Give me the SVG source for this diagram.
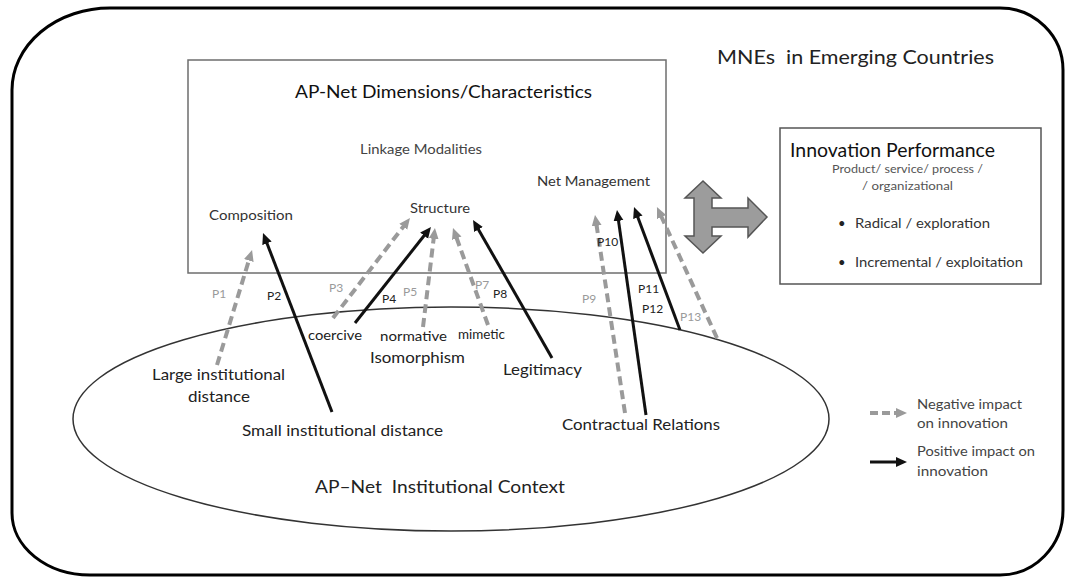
<svg xmlns="http://www.w3.org/2000/svg" width="1065" height="580" viewBox="0 0 1065 580">
<style>
text{font-family:Lato,"Liberation Sans",sans-serif;fill:#222}
.pre{white-space:pre}
.g{fill:#9a9a9a}
.neg{stroke:#9a9a9a;stroke-width:4;stroke-dasharray:9 5;fill:none}
.pos{stroke:#111;stroke-width:3;fill:none}
.box{fill:#fff;stroke:#6e6e6e;stroke-width:1.5}
.lab{font-size:12px}
</style>
<defs>
<marker id="hg" markerUnits="userSpaceOnUse" markerWidth="12" markerHeight="11" refX="3" refY="5" orient="auto"><path d="M0,0 L11,5 L0,10 z" fill="#9a9a9a"/></marker>
<marker id="hb" markerUnits="userSpaceOnUse" markerWidth="12" markerHeight="11" refX="3" refY="5" orient="auto"><path d="M0,0 L11,5 L0,10 z" fill="#111"/></marker>
</defs>
<rect width="1065" height="580" fill="#fff"/>
<g id="outer">
<path d="M110,8 H1000 A63,62 0 0 1 1063,70 V510 A63,65 0 0 1 1000,575 H90 A78,62 0 0 1 12,513 V90 A98,82 0 0 1 110,8 Z" fill="none" stroke="#000" stroke-width="3"/>
<text class="pre" x="717" y="64" font-size="19" textLength="277" lengthAdjust="spacingAndGlyphs">MNEs  in Emerging Countries</text>
</g>
<g id="context">
<ellipse cx="451" cy="419" rx="378" ry="112" fill="none" stroke="#333" stroke-width="1.5"/>
<text class="pre" x="315" y="493" font-size="18" textLength="250" lengthAdjust="spacingAndGlyphs">AP–Net  Institutional Context</text>
</g>
<g id="dimensions">
<rect class="box" x="188" y="60" width="478" height="213"/>
<text x="295" y="98" font-size="18" textLength="297" lengthAdjust="spacingAndGlyphs" style="fill:#111">AP-Net Dimensions/Characteristics</text>
<text x="360" y="154" font-size="13" textLength="122" lengthAdjust="spacingAndGlyphs" style="fill:#444">Linkage Modalities</text>
</g>
<g id="net-management"><text x="537" y="186" font-size="13.5" textLength="113" lengthAdjust="spacingAndGlyphs" style="fill:#333">Net Management</text></g>
<g id="structure"><text x="410" y="213" font-size="13.5" textLength="60" lengthAdjust="spacingAndGlyphs" style="fill:#333">Structure</text></g>
<g id="composition"><text x="209" y="220" font-size="13.5" textLength="84" lengthAdjust="spacingAndGlyphs" style="fill:#333">Composition</text></g>
<g id="innovation">
<rect class="box" x="780" y="128" width="261" height="156" style="stroke:#555"/>
<text x="790" y="157" font-size="19" textLength="205" lengthAdjust="spacingAndGlyphs" style="fill:#111">Innovation Performance</text>
<text x="832" y="173" font-size="11.5" textLength="151" lengthAdjust="spacingAndGlyphs" style="fill:#555">Product/ service/ process /</text>
<text x="862" y="190" font-size="11.5" textLength="91" lengthAdjust="spacingAndGlyphs" style="fill:#555">/ organizational</text>
<text x="838" y="228" font-size="13">•</text>
<text x="855" y="228" font-size="13.5" textLength="135" lengthAdjust="spacingAndGlyphs" style="fill:#333">Radical / exploration</text>
<text x="838" y="267" font-size="13">•</text>
<text x="855" y="267" font-size="13.5" textLength="168" lengthAdjust="spacingAndGlyphs" style="fill:#333">Incremental / exploitation</text>
</g>
<g id="impact-arrow">
<polygon points="703,181 721,198 712,198 712,208 748,208 748,198 767,217 748,237 748,227 712,227 712,236 721,236 703,253 685,236 694,236 694,198 685,198" fill="#9c9c9c" stroke="#555" stroke-width="1.5"/>
</g>
<g id="sources">
<text x="152" y="380" font-size="15" textLength="133" lengthAdjust="spacingAndGlyphs">Large institutional</text>
<text x="188" y="402" font-size="15" textLength="62" lengthAdjust="spacingAndGlyphs">distance</text>
<text x="242" y="436" font-size="14.5" textLength="201" lengthAdjust="spacingAndGlyphs">Small institutional distance</text>
<text x="308" y="340" font-size="12.5" textLength="54" lengthAdjust="spacingAndGlyphs">coercive</text>
<text x="380" y="341" font-size="12.5" textLength="67" lengthAdjust="spacingAndGlyphs">normative</text>
<text x="458" y="339" font-size="12.5" textLength="47" lengthAdjust="spacingAndGlyphs">mimetic</text>
<text x="370" y="363" font-size="15" textLength="95" lengthAdjust="spacingAndGlyphs">Isomorphism</text>
<text x="503" y="375" font-size="15" textLength="79" lengthAdjust="spacingAndGlyphs">Legitimacy</text>
<text x="562" y="430" font-size="15" textLength="158" lengthAdjust="spacingAndGlyphs">Contractual Relations</text>
</g>
<g id="connectors">
<line class="neg" x1="217" y1="365" x2="249.7" y2="257.7" marker-end="url(#hg)"/>
<line class="pos" x1="332" y1="412" x2="265.9" y2="240.5" marker-end="url(#hb)"/>
<line class="neg" x1="333" y1="318" x2="405.1" y2="224.3" marker-end="url(#hg)"/>
<line class="pos" x1="355" y1="323" x2="426.0" y2="233.3" marker-end="url(#hb)"/>
<line class="neg" x1="423" y1="327" x2="434.0" y2="235.9" marker-end="url(#hg)"/>
<line class="neg" x1="488" y1="325" x2="455.7" y2="235.5" marker-end="url(#hg)"/>
<line class="pos" x1="552" y1="358" x2="477.0" y2="226.9" marker-end="url(#hb)"/>
<line class="neg" x1="625" y1="413" x2="596.2" y2="222.9" marker-end="url(#hg)"/>
<line class="pos" x1="646" y1="415" x2="618.1" y2="217.9" marker-end="url(#hb)"/>
<line class="pos" x1="680" y1="330" x2="636.8" y2="214.5" marker-end="url(#hb)"/>
<line class="neg" x1="717" y1="338" x2="660.3" y2="214.3" marker-end="url(#hg)"/>
<text class="lab g" x="212" y="298">P1</text>
<text class="lab" x="267" y="300">P2</text>
<text class="lab g" x="329" y="292">P3</text>
<text class="lab" x="382" y="303">P4</text>
<text class="lab g" x="403" y="296">P5</text>
<text class="lab g" x="475" y="289">P7</text>
<text class="lab" x="493" y="298">P8</text>
<text class="lab g" x="582" y="303">P9</text>
<text class="lab" x="597" y="246">P10</text>
<text class="lab" x="638" y="293">P11</text>
<text class="lab" x="642" y="313">P12</text>
<text class="lab g" x="680" y="321">P13</text>
</g>
<g id="legend">
<line class="neg" x1="870" y1="413" x2="899" y2="413" style="stroke-dasharray:8 4" marker-end="url(#hg)"/>
<line class="pos" x1="870" y1="462" x2="899" y2="462" marker-end="url(#hb)"/>
<text x="917" y="409" font-size="13.5" textLength="105" lengthAdjust="spacingAndGlyphs" style="fill:#444">Negative impact</text>
<text x="917" y="428" font-size="13.5" textLength="91" lengthAdjust="spacingAndGlyphs" style="fill:#444">on innovation</text>
<text x="917" y="456" font-size="13.5" textLength="118" lengthAdjust="spacingAndGlyphs" style="fill:#444">Positive impact on</text>
<text x="917" y="476" font-size="13.5" textLength="71" lengthAdjust="spacingAndGlyphs" style="fill:#444">innovation</text>
</g>
</svg>
